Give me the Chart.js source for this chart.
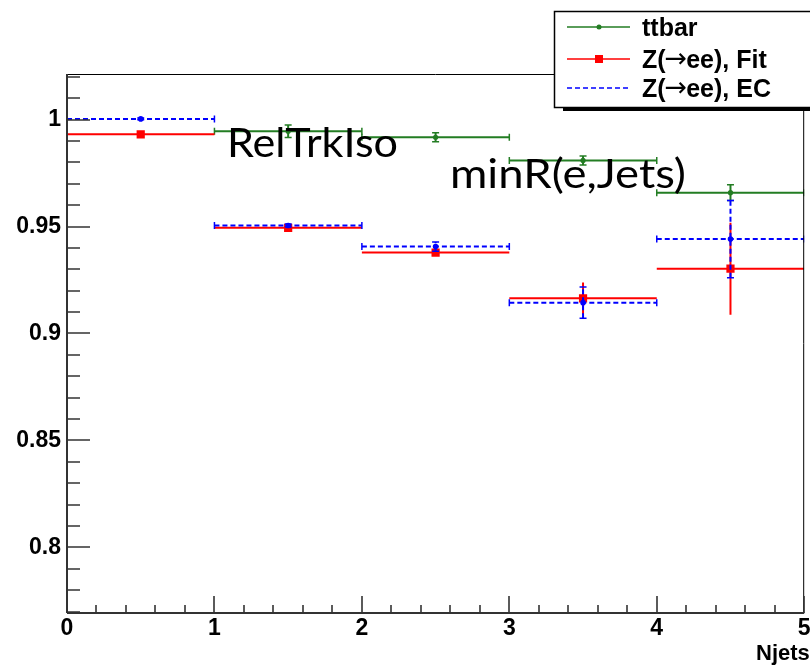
<!DOCTYPE html>
<html>
<head>
<meta charset="utf-8">
<style>
  html, body { margin: 0; padding: 0; background: #ffffff; }
  #wrap { width: 810px; height: 667px; position: relative; }
</style>
<script src="https://cdn.jsdelivr.net/npm/chart.js@4.4.1/dist/chart.umd.min.js"></script>
</head>
<body>
<div id="wrap"><canvas id="c" width="810" height="667"></canvas></div>
<script>
// ---- data ----
const binEdges   = [0, 1, 2, 3, 4, 5];
const binCenters = [0.5, 1.5, 2.5, 3.5, 4.5];
const ttbarEff = [null, 0.9945, 0.9917, 0.9809, 0.9658];
const ttbarErr = [null, 0.0029, 0.0021, 0.0021, 0.0037];
const fitEff   = [0.9931, 0.9494, 0.9378, 0.9164, 0.9303];
const fitErr   = [0.0008, 0.0008, 0.0008, 0.0074, 0.0215];
const ecEff    = [1.0003, 0.9505, 0.9406, 0.9144, 0.9441];
const ecErr    = [0.0004, 0.0007, 0.0022, 0.0073, 0.0181];
const xTickValues = [0, 1, 2, 3, 4, 5];
const yTickLabels = ['0.8', '0.85', '0.9', '0.95', '1'];
const legendLabels = [['ttbar', '', ''], ['Z(', '\u2192', 'ee), Fit'], ['Z(', '\u2192', 'ee), EC']];
const annotations = ['RelTrkIso', 'minR(e,Jets)'];
const xTitle = 'Njets';

const GREEN = 'rgb(35,125,35)', RED = '#ff0000', BLUE = '#0000ff';

function hSeg(vals) {
  const d = [];
  vals.forEach((v, i) => {
    if (v === null) return;
    d.push({x: binEdges[i], y: v}, {x: binEdges[i + 1], y: v}, {x: binEdges[i + 1], y: null});
  });
  return d;
}
function vSeg(vals, errs) {
  const d = [];
  vals.forEach((v, i) => {
    if (v === null) return;
    d.push({x: binCenters[i], y: v - errs[i]}, {x: binCenters[i], y: v + errs[i]}, {x: binCenters[i], y: null});
  });
  return d;
}
function pts(vals) {
  const d = [];
  vals.forEach((v, i) => { if (v !== null) d.push({x: binCenters[i], y: v}); });
  return d;
}

function series(vals, errs, color, dash, caps, marker, markerR, baseOrder) {
  return [
    { type: 'line', data: hSeg(vals), borderColor: color, borderWidth: 2, borderDash: dash,
      spanGaps: false, fill: false, tension: 0,
      pointStyle: 'line', pointRotation: 90, pointRadius: caps ? 3.5 : 0,
      pointBorderColor: color, pointBorderWidth: 1.5, order: baseOrder + 2 },
    { type: 'line', data: vSeg(vals, errs), borderColor: color, borderWidth: 2, borderDash: dash,
      spanGaps: false, fill: false, tension: 0,
      pointStyle: 'line', pointRotation: 0, pointRadius: caps ? 3.5 : 0,
      pointBorderColor: color, pointBorderWidth: 1.5, order: baseOrder + 1 },
    { type: 'scatter', data: pts(vals), showLine: false,
      pointStyle: marker, pointRadius: markerR, pointBackgroundColor: color,
      pointBorderColor: color, pointBorderWidth: 0, order: baseOrder }
  ];
}

const datasets = [
  ...series(ttbarEff, ttbarErr, GREEN, [], true, 'circle', 2.6, 20),
  ...series(fitEff, fitErr, RED, [], false, 'rect', 5.8, 10),
  ...series(ecEff, ecErr, BLUE, [5, 3], true, 'circle', 2.8, 0)
];

const FONT = '"Liberation Sans", Arial, Helvetica, sans-serif';

const rootFrame = {
  id: 'rootFrame',
  afterDatasetsDraw(chart) {
    const ctx = chart.ctx, a = chart.chartArea;
    const xs = chart.scales.x, ys = chart.scales.y;
    ctx.save();
    ctx.strokeStyle = '#000';
    ctx.lineWidth = 1;
    ctx.beginPath();
    ctx.moveTo(a.left, a.top + 0.5); ctx.lineTo(a.right, a.top + 0.5);
    ctx.moveTo(a.right - 0.5, a.top); ctx.lineTo(a.right - 0.5, a.bottom);
    ctx.stroke();
    ctx.strokeStyle = '#333';
    ctx.lineWidth = 2;
    ctx.beginPath();
    ctx.moveTo(a.left, a.top); ctx.lineTo(a.left, a.bottom);
    ctx.moveTo(a.left, a.bottom); ctx.lineTo(a.right, a.bottom);
    ctx.stroke();
    ctx.lineWidth = 1.6;
    ctx.beginPath();
    for (let k = 77; k <= 102; k++) {
      const v = k / 100;
      const py = Math.round(ys.getPixelForValue(v));
      const major = (k % 5 === 0);
      ctx.moveTo(a.left, py); ctx.lineTo(a.left + (major ? 23 : 13), py);
    }
    for (let k = 0; k <= 25; k++) {
      const v = k / 5;
      const px = Math.round(xs.getPixelForValue(v));
      const major = (k % 5 === 0);
      ctx.moveTo(px, a.bottom); ctx.lineTo(px, a.bottom - (major ? 17 : 8));
    }
    ctx.stroke();
    ctx.restore();
  },
  afterDraw(chart) {
    const ctx = chart.ctx;
    ctx.save();
    ctx.fillStyle = '#000';
    ctx.textBaseline = 'alphabetic';
    ctx.textAlign = 'left';
    const annPos = [[227, 157, 171], [450, 188, 236]];
    annotations.forEach((t, i) => {
      ctx.save();
      ctx.font = '41px Lato, "Open Sans", sans-serif';
      const w = ctx.measureText(t).width;
      const [x0, y0, tw] = annPos[i];
      ctx.translate(x0, y0);
      ctx.scale(tw / w, 1);
      ctx.fillText(t, 0, 0);
      ctx.restore();
    });
    const bx = 554, by = 11, bw = 300, bh = 96;
    ctx.fillStyle = '#000';
    ctx.fillRect(bx + 9, by + bh, bw, 4);
    ctx.fillStyle = '#fff';
    ctx.fillRect(bx, by, bw, bh);
    ctx.strokeStyle = '#000';
    ctx.lineWidth = 1.5;
    ctx.strokeRect(bx + 0.5, by + 0.5, bw, bh);
    const rows = [27, 59, 88];
    const cols = [GREEN, RED, BLUE];
    const dashes = [[], [], [5, 3]];
    rows.forEach((ry, i) => {
      ctx.strokeStyle = cols[i];
      ctx.lineWidth = 1.5;
      ctx.setLineDash(dashes[i]);
      ctx.beginPath(); ctx.moveTo(567, ry); ctx.lineTo(630, ry); ctx.stroke();
      ctx.setLineDash([]);
      ctx.fillStyle = cols[i];
      if (i === 0) { ctx.beginPath(); ctx.arc(599, ry, 2.5, 0, Math.PI * 2); ctx.fill(); }
      if (i === 1) { ctx.fillRect(595, ry - 4, 8, 8); }
      ctx.fillStyle = '#000';
      ctx.textBaseline = 'alphabetic';
      const base = ry + 9;
      const [p1, arrow, p2] = legendLabels[i];
      let x = 642;
      ctx.font = 'bold 25px ' + FONT;
      ctx.fillText(p1, x, base);
      x += ctx.measureText(p1).width;
      if (arrow) {
        ctx.font = '27px "DejaVu Sans", sans-serif';
        ctx.fillText(arrow, x - 1, base - 1);
        x += ctx.measureText(arrow).width - 2;
        ctx.font = 'bold 25px ' + FONT;
        ctx.fillText(p2, x, base);
      }
    });
    ctx.font = 'bold 22px ' + FONT;
    ctx.textBaseline = 'alphabetic';
    ctx.textAlign = 'left';
    ctx.fillStyle = '#000';
    ctx.fillText(xTitle, 756, 660);
    ctx.restore();
  }
};

new Chart(document.getElementById('c'), {
  data: { datasets },
  options: {
    responsive: false,
    animation: false,
    events: [],
    layout: { padding: { top: 74, right: 4, left: 0, bottom: 0 } },
    plugins: { legend: { display: false }, tooltip: { enabled: false }, title: { display: false } },
    scales: {
      x: {
        type: 'linear', min: 0, max: 5,
        grid: { display: false, drawTicks: false },
        border: { display: false },
        afterFit(s) { s.height = 54; s.paddingLeft = 0; s.paddingRight = 0; },
        afterBuildTicks(s) { s.ticks = xTickValues.map(v => ({ value: v })); },
        ticks: { padding: 2, color: '#000', font: { family: FONT, size: 23, weight: 'bold' },
                 maxRotation: 0, autoSkip: false,
                 callback: v => String(v) }
      },
      y: {
        type: 'linear', min: 0.7693, max: 1.0213,
        grid: { display: false, drawTicks: false },
        border: { display: false },
        afterFit(s) { s.width = 67; s.paddingTop = 0; s.paddingBottom = 0; },
        afterBuildTicks(s) { s.ticks = yTickLabels.map(t => ({ value: parseFloat(t) })); },
        ticks: { padding: 6, color: '#000', font: { family: FONT, size: 23, weight: 'bold' },
                 autoSkip: false,
                 callback: (v) => { const m = yTickLabels.find(t => Math.abs(parseFloat(t) - v) < 1e-6); return m || ''; } }
      }
    }
  },
  plugins: [rootFrame]
});
</script>
</body>
</html>
